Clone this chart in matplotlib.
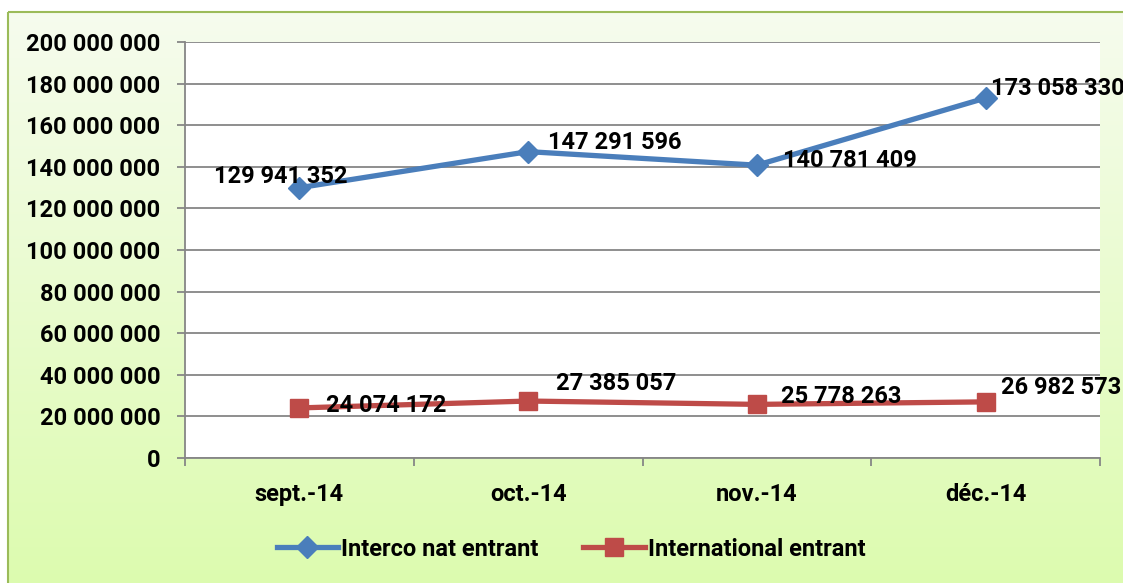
import matplotlib
matplotlib.use("Agg")
import matplotlib.pyplot as plt
import numpy as np
from matplotlib.patches import Rectangle

categories = ["sept.-14", "oct.-14", "nov.-14", "déc.-14"]
interco = [129941352, 147291596, 140781409, 173058330]
international = [24074172, 27385057, 25778263, 26982573]
series_names = ["Interco nat entrant", "International entrant"]
yticks = [0, 20000000, 40000000, 60000000, 80000000, 100000000,
          120000000, 140000000, 160000000, 180000000, 200000000]

plt.rcParams['font.family'] = ['Roboto', 'DejaVu Sans']
plt.rcParams['font.weight'] = 'bold'
FS = 17

W, H = 1123, 583
fig = plt.figure(figsize=(W / 100, H / 100), dpi=100)
fig.patch.set_facecolor('white')

# background with gradient frame
bg = fig.add_axes([0, 0, 1, 1])
bg.axis('off')
top = np.array([0xF6, 0xFC, 0xEE]) / 255
bot = np.array([0xDC, 0xFB, 0xAE]) / 255
t = np.linspace(0, 1, 256)[:, None, None]
grad = top[None, None, :] * (1 - t) + bot[None, None, :] * t
bg.imshow(grad, extent=[8, W + 10, H + 10, 12], aspect='auto', zorder=0)
bg.add_patch(Rectangle((8, 12), W + 10, H + 10, fill=False,
                       edgecolor='#9BBB59', linewidth=1.5, zorder=1))
bg.set_xlim(0, W)
bg.set_ylim(H, 0)

L, R, T, B = 185, 1100, 42, 458
ax = fig.add_axes([L / W, (H - B) / H, (R - L) / W, (B - T) / H])
ax.set_facecolor('white')
x = np.arange(len(categories))
blue = '#4A7EBB'
red = '#BE4B48'
l1, = ax.plot(x, interco, color=blue, lw=3.8, marker='D', markersize=11,
              label=series_names[0], zorder=3)
l2, = ax.plot(x, international, color=red, lw=3.8, marker='s', markersize=13,
              label=series_names[1], zorder=3)

ax.set_xlim(-0.5, len(categories) - 0.5)
ax.set_ylim(0, 200000000)
ax.set_yticks(yticks)
ax.set_yticklabels([f"{v:,}".replace(",", " ") for v in yticks], fontsize=FS,
                   fontweight='bold')
ax.set_xticks(x)
ax.set_xticklabels(categories, fontsize=FS, fontweight='bold')
ax.set_xticks(np.arange(-0.5, len(categories)), minor=True)
ax.tick_params(axis='x', which='major', length=0, pad=18)
ax.tick_params(axis='x', which='minor', length=5.8, color='#868686', width=1.3,
               direction='out')
ax.tick_params(axis='y', length=5.8, color='#868686', width=1.3, pad=12)
ax.grid(axis='y', color='#868686', lw=1.3)
ax.set_axisbelow(True)
for s in ['top', 'right']:
    ax.spines[s].set_visible(False)
for s in ['left', 'bottom']:
    ax.spines[s].set_color('#868686')
    ax.spines[s].set_linewidth(1.3)

def fmt(v):
    return f"{v:,}".replace(",", " ")

blue_off = [(-19, 11, 'center'), (20, 9, 'left'), (26, 5, 'left'), (5, 10, 'left')]
red_off = [(27, 2, 'left'), (28, 18, 'left'), (24, 8, 'left'), (15, 14, 'left')]
for i, v in enumerate(interco):
    dx, dy, ha = blue_off[i]
    ax.annotate(fmt(v), (x[i], v), xytext=(dx, dy), textcoords='offset pixels',
                ha=ha, va='center', fontsize=FS, fontweight='bold',
                annotation_clip=False, zorder=5)
for i, v in enumerate(international):
    dx, dy, ha = red_off[i]
    ax.annotate(fmt(v), (x[i], v), xytext=(dx, dy), textcoords='offset pixels',
                ha=ha, va='center', fontsize=FS, fontweight='bold',
                annotation_clip=False, zorder=5)

fig.legend(handles=[l1, l2], loc='center', bbox_to_anchor=(571 / W, 1 - 549 / H),
           ncol=2, frameon=False, handlelength=2.6,
           handletextpad=0.13, columnspacing=1.9, prop={'weight': 'bold', 'size': FS})

fig.savefig('out.png', dpi=100)
